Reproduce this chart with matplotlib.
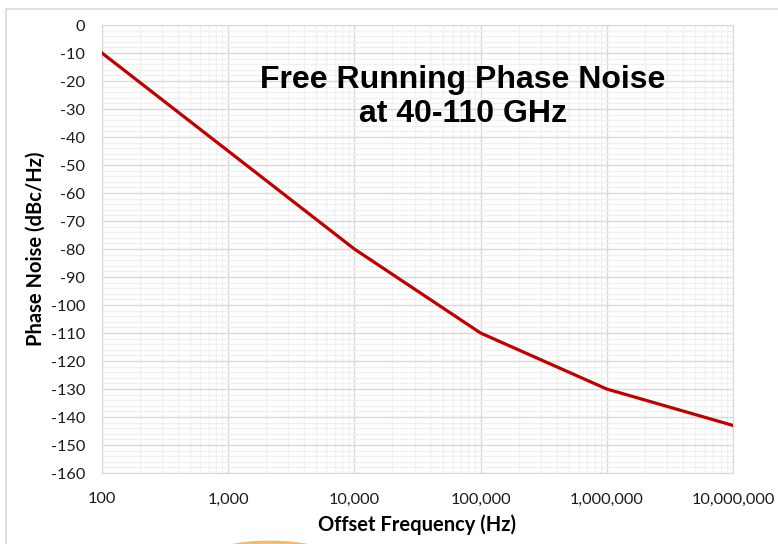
import matplotlib.pyplot as plt
from matplotlib.patches import Rectangle, Ellipse
from matplotlib.ticker import FixedLocator, NullFormatter

# offset frequency (Hz) and phase noise (dBc/Hz)
freq = [100, 1000, 10000, 100000, 1000000, 10000000]
noise = [-10, -45, -80, -110, -130, -143]
x_ticks = [100, 1000, 10000, 100000, 1000000, 10000000]
x_labels = ['100', '1,000', '10,000', '100,000', '1,000,000', '10,000,000']
y_ticks = list(range(-160, 1, 10))

plt.rcParams['axes.unicode_minus'] = False

fig = plt.figure(figsize=(7.78, 5.44), dpi=100)
ax = fig.add_axes([0.1311, 0.1305, 0.811, 0.8235])

# outer frame of the chart box
fig.patches.append(Rectangle((6 / 778, -0.1), 1.1, 1 - 9 / 544 + 0.1,
                             transform=fig.transFigure, fill=False,
                             edgecolor='#d9d9d9', linewidth=1.2))
# orange arc peeking from the bottom
fig.patches.append(Ellipse((270 / 778, -0.02), 115 / 778, 0.05,
                           transform=fig.transFigure, color='#f5b041', alpha=0.8))

ax.plot(freq, noise, color='#c00000', linewidth=2.3, zorder=3)

ax.set_xscale('log')
ax.set_xlim(100, 10000000)
ax.set_ylim(-160, 0)
ax.set_xticks(x_ticks)
ax.set_xticklabels(x_labels)
ax.xaxis.set_minor_formatter(NullFormatter())
ax.set_yticks(y_ticks)
ax.yaxis.set_minor_locator(FixedLocator([v for v in range(-160, 1, 2) if v % 10]))

ax.grid(True, which='major', color='#d9d9d9', linewidth=1.0)
ax.grid(True, which='minor', color='#f0f0f0', linewidth=0.9)
ax.set_axisbelow(True)
ax.tick_params(which='both', length=0)
ax.tick_params(axis='x', pad=14)
ax.tick_params(axis='y', pad=12)
for lab in ax.get_xticklabels() + ax.get_yticklabels():
    lab.set_fontfamily('Lato')
    lab.set_fontsize(11.7)
    lab.set_color('#1a1a1a')

for s in ['top', 'right', 'left', 'bottom']:
    ax.spines[s].set_color('#d9d9d9')

ax.set_xlabel('Offset Frequency (Hz)', fontfamily='Lato', fontweight='bold',
              fontsize=14.5, labelpad=6)
ax.set_ylabel('Phase Noise (dBc/Hz)', fontfamily='Lato', fontweight='bold',
              fontsize=14.5, labelpad=4)

ax.text(0.572, 0.839, 'Free Running Phase Noise\nat 40-110 GHz',
        transform=ax.transAxes, ha='center', va='center',
        fontfamily='Liberation Sans', fontweight='bold', fontsize=23,
        linespacing=1.15)

fig.savefig('out.png', dpi=100)
